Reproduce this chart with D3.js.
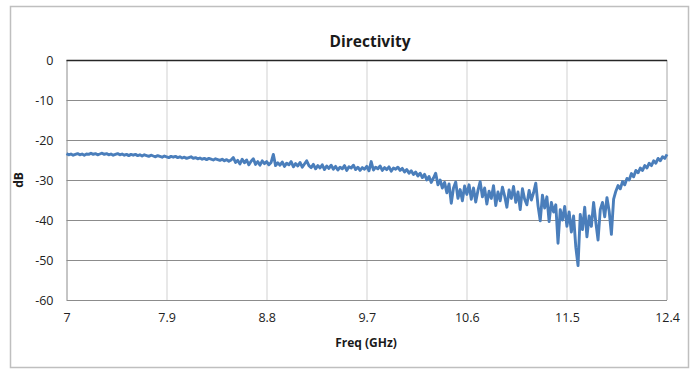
<!DOCTYPE html>
<html>
<head>
<meta charset="utf-8">
<script src="https://cdn.jsdelivr.net/npm/d3@7"></script>
<style>
  body { margin: 0; background: #fff; }
  text { font-family: "Open Sans", "Liberation Sans", sans-serif; }
</style>
</head>
<body>
<div id="chart"></div>
<script>
// sweep: 7.00 GHz to 12.40 GHz, one reading every 0.02 GHz
var freqStart = 7.0,
  freqStep = 0.02;

// directivity readings (dB), 10 per row
var directivity = [
  -23.4, -23.7, -23.5, -23.8, -23.6, -23.4, -23.7, -23.5, -23.8, -23.5,
  -23.6, -23.3, -23.6, -23.4, -23.7, -23.5, -23.3, -23.6, -23.4, -23.7,
  -23.5, -23.8, -23.6, -23.4, -23.7, -23.5, -23.8, -23.6, -23.9, -23.6,
  -23.8, -23.6, -23.9, -23.7, -24.0, -23.7, -23.9, -24.1, -23.8, -24.0,
  -24.2, -23.9, -24.1, -24.3, -24.0, -24.2, -24.4, -24.1, -24.3, -24.1,
  -24.4, -24.2, -24.5, -24.3, -24.6, -24.4, -24.2, -24.6, -24.4, -24.7,
  -24.5, -24.8, -24.6, -24.9, -24.6, -24.8, -25.0, -24.7, -24.9, -25.1,
  -24.8, -25.2, -24.9, -25.3, -25.0, -24.4, -25.6, -25.1, -26.0, -24.8,
  -25.7, -25.0, -26.2, -25.3, -24.7, -26.1, -25.4, -26.3, -25.2, -25.9,
  -25.4, -26.2, -25.6, -23.6, -26.4, -25.7, -26.3, -25.5, -26.6, -25.8,
  -26.2, -25.4, -26.7, -25.9, -26.5, -25.6, -26.8, -26.0, -25.2, -26.4,
  -26.9, -26.1, -27.2, -26.4, -27.0, -26.2, -27.4, -26.5, -27.1, -26.3,
  -27.3, -26.6, -27.5, -26.8, -27.2, -26.4, -27.6, -26.7, -27.0, -26.3,
  -27.4, -26.8, -27.6, -26.9, -27.3, -26.6, -27.7, -25.4, -27.5, -26.8,
  -27.2, -26.5, -27.6, -26.9, -27.4, -26.7, -27.8, -27.0, -27.3, -26.8,
  -27.6, -27.1, -28.0, -27.4, -28.3, -27.7, -28.6, -28.0, -29.0, -28.3,
  -29.4, -28.6, -30.0, -29.1, -30.6, -29.5, -28.3, -31.2, -30.0, -32.0,
  -30.6, -33.2, -31.0, -35.8, -32.0, -30.5, -34.6, -32.4, -35.2, -31.5,
  -33.6, -31.2, -34.8, -32.0, -35.5, -32.6, -30.4, -34.2, -32.0, -36.0,
  -32.8, -34.6, -31.4, -36.4, -33.0, -35.2, -31.8, -34.0, -36.8, -32.5,
  -34.6, -31.6, -35.6, -33.0, -37.4, -32.2, -34.8, -36.2, -32.6, -35.0,
  -33.2, -30.8, -36.4, -40.2, -33.8, -37.0, -34.2, -40.4, -35.6, -38.0,
  -36.2, -45.8, -37.4, -40.0, -36.6, -41.6, -38.0, -43.0, -39.0, -46.8,
  -51.4, -38.6, -42.4, -36.8, -44.2, -39.0, -41.6, -35.6, -40.6, -45.0,
  -37.4, -35.6, -39.2, -34.4, -37.8, -43.6, -34.8, -32.8, -31.4, -32.2,
  -30.4, -31.2, -29.6, -30.0, -28.4, -29.2, -27.6, -28.2, -27.0, -27.6,
  -26.4, -27.0, -25.8, -26.4, -25.2, -25.8, -24.6, -25.2, -24.2, -24.6,
  -23.6
];

var xTicks = [7, 7.9, 8.8, 9.7, 10.6, 11.5, 12.4];
var yTicks = [0, -10, -20, -30, -40, -50, -60];

var data = directivity.map(function (v, i) {
  return { f: freqStart + i * freqStep, db: v };
});

var W = 696,
  H = 376;
var margin = { top: 60, right: 29, bottom: 76, left: 66.5 };
var width = W - margin.left - margin.right,
  height = H - margin.top - margin.bottom;

var svg = d3
  .select("#chart")
  .append("svg")
  .attr("width", W)
  .attr("height", H);

// outer chart frame
svg
  .append("rect")
  .attr("x", 10.5)
  .attr("y", 6.5)
  .attr("width", 678)
  .attr("height", 361)
  .attr("fill", "#fff")
  .attr("stroke", "#bfbfbf")
  .attr("stroke-width", 1.5);

var g = svg
  .append("g")
  .attr("transform", "translate(" + margin.left + "," + margin.top + ")");

var x = d3.scaleLinear().domain([7, 12.4]).range([0, width]);
var y = d3.scaleLinear().domain([-60, 0]).range([height, 0]);

// vertical grid
g.selectAll(".vgrid")
  .data(xTicks.slice(1, -1))
  .enter()
  .append("line")
  .attr("class", "vgrid")
  .attr("x1", function (d) { return Math.round(x(d)) + 0.5; })
  .attr("x2", function (d) { return Math.round(x(d)) + 0.5; })
  .attr("y1", 0)
  .attr("y2", height)
  .attr("stroke", "#d9d9d9")
  .attr("stroke-width", 1.2);

// horizontal grid
g.selectAll(".hgrid")
  .data(yTicks.slice(1))
  .enter()
  .append("line")
  .attr("class", "hgrid")
  .attr("x1", 0)
  .attr("x2", width)
  .attr("y1", function (d) { return Math.round(y(d)) + 0.5; })
  .attr("y2", function (d) { return Math.round(y(d)) + 0.5; })
  .attr("stroke", "#8c8c8c")
  .attr("stroke-width", 1);

// left and right edges of plot
g.append("line")
  .attr("x1", 0.5).attr("x2", 0.5)
  .attr("y1", 0).attr("y2", height)
  .attr("stroke", "#8c8c8c");
g.append("line")
  .attr("x1", width).attr("x2", width)
  .attr("y1", 0).attr("y2", height)
  .attr("stroke", "#a6a6a6");

// top edge (0 dB) is drawn darker
g.append("line")
  .attr("x1", 0).attr("x2", width)
  .attr("y1", 0.5).attr("y2", 0.5)
  .attr("stroke", "#262626")
  .attr("stroke-width", 1.6);

// data line
g.append("path")
  .datum(data)
  .attr("fill", "none")
  .attr("stroke", "#4a7ebb")
  .attr("stroke-width", 2.9)
  .attr("stroke-linejoin", "round")
  .attr(
    "d",
    d3
      .line()
      .x(function (d) { return x(d.f); })
      .y(function (d) { return y(d.db); })
  );

// plain hyphen minus like the original labels
var fmt = function (d) { return String(d); };

// y axis labels
var yAxis = g
  .append("g")
  .call(d3.axisLeft(y).tickValues(yTicks).tickSize(0).tickPadding(13).tickFormat(fmt));
yAxis.select(".domain").remove();
yAxis
  .selectAll("text")
  .attr("font-size", 12.5)
  .attr("fill", "#222")
  .style("font-family", '"Open Sans", sans-serif');

// x axis labels
var xAxis = g
  .append("g")
  .attr("transform", "translate(0," + height + ")")
  .call(
    d3
      .axisBottom(x)
      .tickValues(xTicks)
      .tickSize(0)
      .tickPadding(13)
      .tickFormat(fmt)
  );
xAxis.select(".domain").remove();
xAxis
  .selectAll("text")
  .attr("font-size", 12.5)
  .attr("fill", "#222")
  .style("font-family", '"Open Sans", sans-serif');

// title
svg
  .append("text")
  .attr("x", 370)
  .attr("y", 47)
  .attr("text-anchor", "middle")
  .attr("font-size", 15.5)
  .attr("font-weight", "bold")
  .attr("fill", "#1a1a1a")
  .text("Directivity");

// axis titles
svg
  .append("text")
  .attr("x", 366)
  .attr("y", 347)
  .attr("text-anchor", "middle")
  .attr("font-size", 12)
  .attr("font-weight", "bold")
  .attr("fill", "#1a1a1a")
  .text("Freq (GHz)");

svg
  .append("text")
  .attr("transform", "translate(23,180) rotate(-90)")
  .attr("text-anchor", "middle")
  .attr("font-size", 12)
  .attr("font-weight", "bold")
  .attr("fill", "#1a1a1a")
  .text("dB");
</script>
</body>
</html>
